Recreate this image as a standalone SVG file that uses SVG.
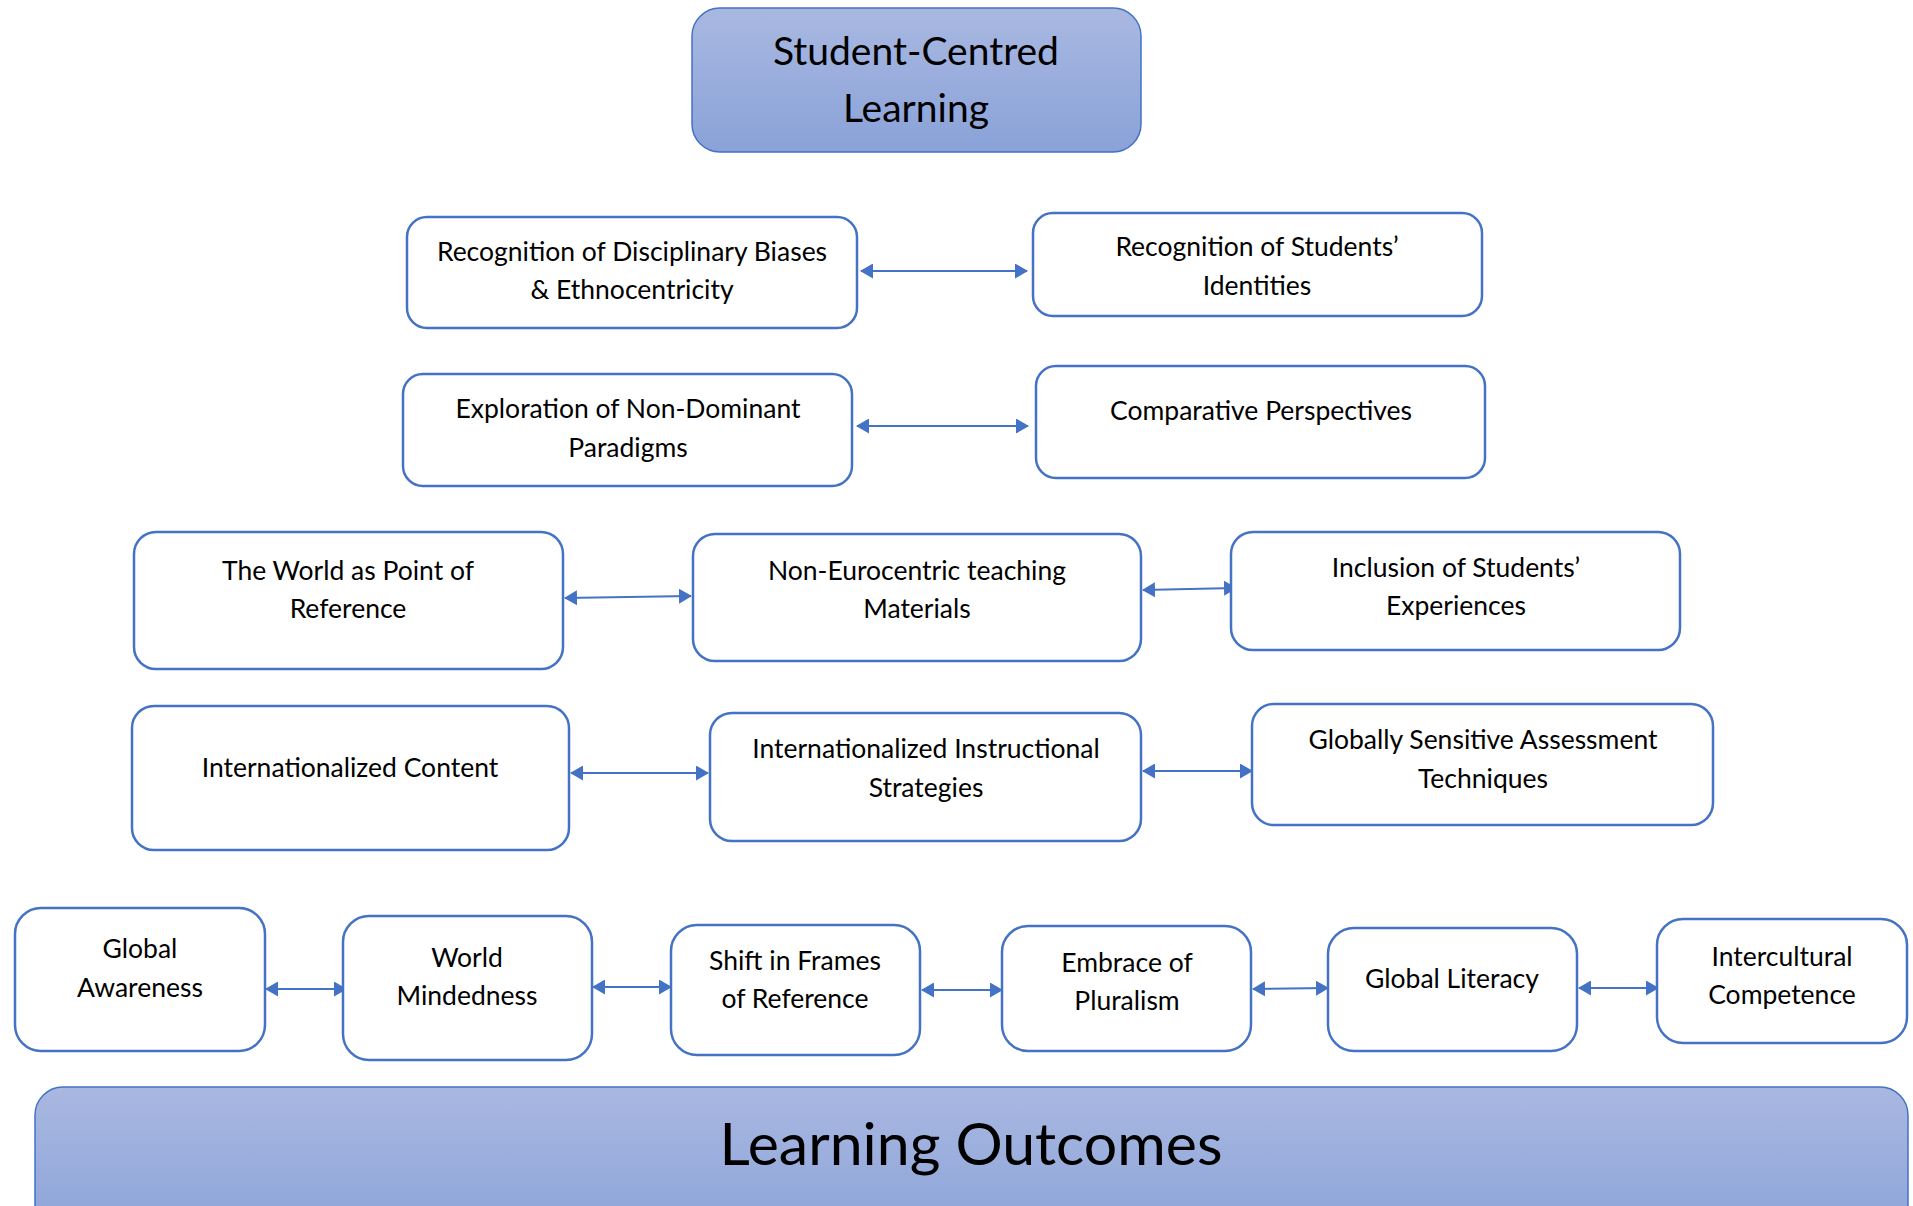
<svg xmlns="http://www.w3.org/2000/svg" width="1913" height="1206" viewBox="0 0 1913 1206">
<defs>
<linearGradient id="hdr" x1="0" y1="0" x2="0" y2="1">
<stop offset="0" stop-color="#A9B8E1"/>
<stop offset="1" stop-color="#8AA2D8"/>
</linearGradient>
<marker id="ah" viewBox="0 0 13 15" refX="12" refY="7.5" markerWidth="13" markerHeight="15" markerUnits="userSpaceOnUse" orient="auto-start-reverse">
<path d="M0,0 L13,7.5 L0,15 z" fill="#4472C4"/>
</marker>
</defs>
<style>
.box{fill:#fff;stroke:#4472C4;stroke-width:2.5}
.hdr{fill:url(#hdr);stroke:#4472C4;stroke-width:1.5}
.t{font-family:Lato,"Liberation Sans",sans-serif;font-size:26.5px;fill:#000;text-anchor:middle}
.big{font-family:Lato,"Liberation Sans",sans-serif;font-size:39px;fill:#000;text-anchor:middle}
.huge{font-family:Lato,"Liberation Sans",sans-serif;font-size:59px;fill:#000;text-anchor:middle}
.c{stroke:#4472C4;stroke-width:2;fill:none;marker-start:url(#ah);marker-end:url(#ah)}
</style>
<g id="connectors">
<line class="c" x1="861" y1="271" x2="1027" y2="271"/>
<line class="c" x1="857" y1="426" x2="1028" y2="426"/>
<line class="c" x1="565" y1="598" x2="691" y2="596"/>
<line class="c" x1="1143" y1="590" x2="1236" y2="588"/>
<line class="c" x1="571" y1="773" x2="708" y2="773"/>
<line class="c" x1="1143" y1="771" x2="1252" y2="771"/>
<line class="c" x1="266" y1="989" x2="346" y2="989"/>
<line class="c" x1="593" y1="987" x2="671" y2="987"/>
<line class="c" x1="922" y1="990" x2="1002" y2="990"/>
<line class="c" x1="1253" y1="989" x2="1328" y2="988"/>
<line class="c" x1="1579" y1="988" x2="1658" y2="988"/>
</g>
<g id="n-scl">
<rect class="hdr" x="692" y="8" width="449" height="144" rx="28"/>
<text class="big" x="916" y="65">Student-Centred</text>
<text class="big" x="916" y="122">Learning</text>
</g>
<g id="n-rdb">
<rect class="box" x="407" y="217" width="450" height="111" rx="20"/>
<text class="t" x="632" y="261">Recognition of Disciplinary Biases</text>
<text class="t" x="632" y="299">&amp; Ethnocentricity</text>
</g>
<g id="n-rsi">
<rect class="box" x="1033" y="213" width="449" height="103" rx="20"/>
<text class="t" x="1257" y="256">Recognition of Students’</text>
<text class="t" x="1257" y="295">Identities</text>
</g>
<g id="n-endp">
<rect class="box" x="403" y="374" width="449" height="112" rx="20"/>
<text class="t" x="628" y="418">Exploration of Non-Dominant</text>
<text class="t" x="628" y="457">Paradigms</text>
</g>
<g id="n-cp">
<rect class="box" x="1036" y="366" width="449" height="112" rx="20"/>
<text class="t" x="1261" y="420">Comparative Perspectives</text>
</g>
<g id="n-world">
<rect class="box" x="134" y="532" width="429" height="137" rx="22"/>
<text class="t" x="348" y="580">The World as Point of</text>
<text class="t" x="348" y="618">Reference</text>
</g>
<g id="n-neur">
<rect class="box" x="693" y="534" width="448" height="127" rx="22"/>
<text class="t" x="917" y="580">Non-Eurocentric teaching</text>
<text class="t" x="917" y="618">Materials</text>
</g>
<g id="n-incl">
<rect class="box" x="1231" y="532" width="449" height="118" rx="22"/>
<text class="t" x="1456" y="577">Inclusion of Students’</text>
<text class="t" x="1456" y="615">Experiences</text>
</g>
<g id="n-ic">
<rect class="box" x="132" y="706" width="437" height="144" rx="22"/>
<text class="t" x="350" y="777">Internationalized Content</text>
</g>
<g id="n-iis">
<rect class="box" x="710" y="713" width="431" height="128" rx="22"/>
<text class="t" x="926" y="758">Internationalized Instructional</text>
<text class="t" x="926" y="797">Strategies</text>
</g>
<g id="n-gsat">
<rect class="box" x="1252" y="704" width="461" height="121" rx="22"/>
<text class="t" x="1483" y="749">Globally Sensitive Assessment</text>
<text class="t" x="1483" y="788">Techniques</text>
</g>
<g id="n-ga">
<rect class="box" x="15" y="908" width="250" height="143" rx="26"/>
<text class="t" x="140" y="958">Global</text>
<text class="t" x="140" y="997">Awareness</text>
</g>
<g id="n-wm">
<rect class="box" x="343" y="916" width="249" height="144" rx="26"/>
<text class="t" x="467" y="967">World</text>
<text class="t" x="467" y="1005">Mindedness</text>
</g>
<g id="n-sfr">
<rect class="box" x="671" y="925" width="249" height="130" rx="26"/>
<text class="t" x="795" y="970">Shift in Frames</text>
<text class="t" x="795" y="1008">of Reference</text>
</g>
<g id="n-ep">
<rect class="box" x="1002" y="926" width="249" height="125" rx="26"/>
<text class="t" x="1127" y="972">Embrace of</text>
<text class="t" x="1127" y="1010">Pluralism</text>
</g>
<g id="n-gl">
<rect class="box" x="1328" y="928" width="249" height="123" rx="26"/>
<text class="t" x="1452" y="988">Global Literacy</text>
</g>
<g id="n-icc">
<rect class="box" x="1657" y="919" width="250" height="124" rx="26"/>
<text class="t" x="1782" y="966">Intercultural</text>
<text class="t" x="1782" y="1004">Competence</text>
</g>
<g id="n-lo">
<rect class="hdr" x="35" y="1087" width="1873" height="160" rx="28"/>
<text class="huge" x="971" y="1165">Learning Outcomes</text>
</g>
</svg>
